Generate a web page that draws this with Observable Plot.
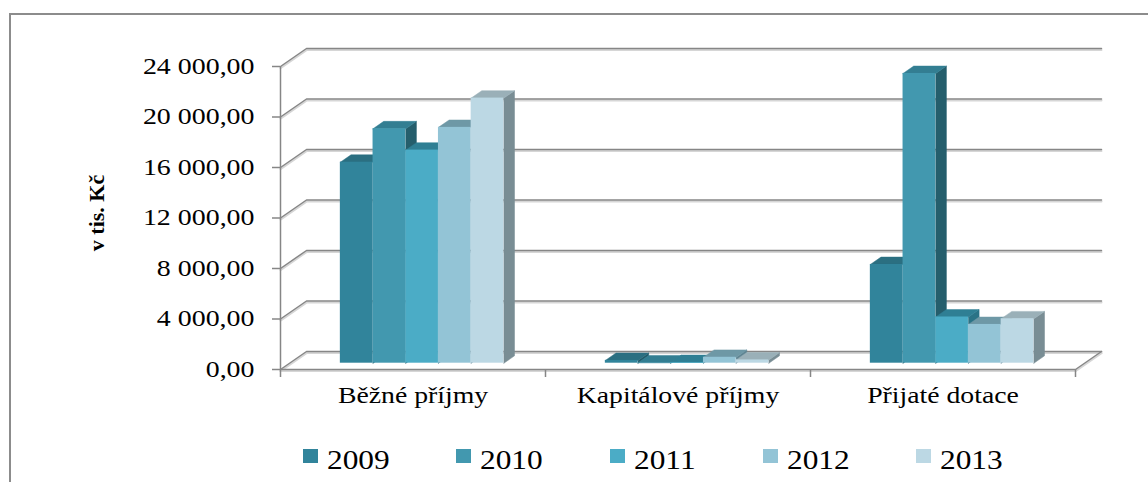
<!DOCTYPE html>
<html>
<head>
<meta charset="utf-8">
<script src="https://cdn.jsdelivr.net/npm/d3@7"></script>
<script src="https://cdn.jsdelivr.net/npm/@observablehq/plot@0.6"></script>
<style>
html,body{margin:0;padding:0;background:#fff;overflow:hidden;width:1148px;height:482px;}
#wrap{position:relative;width:1148px;height:482px;}
#border{position:absolute;left:9px;top:13px;width:1300px;height:700px;border:2px solid #8c8c8c;box-sizing:border-box;}
#chart{position:absolute;left:0;top:0;}
#legend{position:absolute;left:303px;top:446px;display:flex;font-family:"Liberation Serif",serif;font-size:28px;line-height:1;color:#000;}
.item{position:relative;width:153.25px;height:30px;}
.sw{position:absolute;left:0;top:3px;width:15px;height:14px;}
.lab{position:absolute;left:24px;top:0;white-space:nowrap;transform:scaleX(1.12);transform-origin:0 0;}
#chart g[aria-label="y-axis tick label"] text{fill:#000;font-size:22.5px;}
#chart g[aria-label="x-axis tick label"] text{fill:#000;font-size:23.5px;}
</style>
</head>
<body>
<div id="wrap">
  <div id="border"></div>
  <div id="chart"></div>
  <div id="legend"></div>
</div>
<script>
// ---- data ----
const categories = ["Běžné příjmy", "Kapitálové příjmy", "Přijaté dotace"];
const years = ["2009", "2010", "2011", "2012", "2013"];
const values2009 = [15920, 220, 7820];
const values2010 = [18570, 30, 22950];
const values2011 = [16880, 60, 3660];
const values2012 = [18680, 470, 3070];
const values2013 = [21000, 260, 3520];
const yTicks = [0, 4000, 8000, 12000, 16000, 20000, 24000];
const yTitle = "v tis. Kč";

// ---- styles ----
const frontColors = ["#31849B", "#4298AF", "#4BACC6", "#93C4D6", "#BCD8E4"];
const topColors   = ["#2B6F81", "#337E92", "#2F7F94", "#6E98A6", "#9AB0B8"];
const sideColors  = ["#235A69", "#255E6C", "#2A7386", "#5F8593", "#798D94"];

const series = [values2009, values2010, values2011, values2012, values2013];

// projection of the 3D box: depth vector in data units
const DX = 26 / 265, DV = 18 / 12.625 * 1000;
const BW = 0.1234, T0 = 0.35, T1 = 0.76;
const P = (x, v, t) => ({x: x + t * DX, y: v + t * DV});

const fronts = [], tops = [], sides = [];
categories.forEach((c, ci) => {
  series.forEach((vals, i) => {
    const v = vals[ci];
    const xa = ci + 0.5 - 2.5 * BW + i * BW, xb = xa + BW;
    fronts.push({x1: xa + T0 * DX, x2: xb + T0 * DX, y1: T0 * DV, y2: v + T0 * DV, color: frontColors[i]});
    const id = ci + "-" + i;
    [P(xa, v, T0), P(xb, v, T0), P(xb, v, T1), P(xa, v, T1), P(xa, v, T0)]
      .forEach(p => tops.push({...p, id, color: topColors[i]}));
    [P(xb, 0, T0), P(xb, v, T0), P(xb, v, T1), P(xb, 0, T1), P(xb, 0, T0)]
      .forEach(p => sides.push({...p, id, color: sideColors[i]}));
  });
});

const grid = [];
yTicks.forEach(v => {
  [P(0, v, 0), P(0, v, 1), P(3, v, 1)].forEach(p => grid.push({...p, id: "g" + v}));
});
[P(0, 0, 0), P(3, 0, 0), P(3, 0, 1)].forEach(p => grid.push({...p, id: "floor"}));

const loc = d3.formatLocale({decimal: ",", thousands: "\u00a0", grouping: [3], currency: ["", ""]});
const fmt = loc.format(",.2f");

const chart = Plot.plot({
  width: 1148,
  height: 440,
  marginLeft: 280,
  marginRight: 73,
  marginTop: 66,
  marginBottom: 71,
  x: {domain: [0, 3]},
  y: {domain: [0, 24000]},
  color: {type: "identity"},
  style: {fontFamily: "Liberation Serif, serif", fontSize: "22px", color: "#000", background: "transparent", overflow: "visible"},
  marks: [
    Plot.line(grid, {x: "x", y: "y", z: "id", stroke: "#d6d6d6", strokeWidth: 2, dy: 1.6}),
    Plot.line(grid, {x: "x", y: "y", z: "id", stroke: "#868686", strokeWidth: 1.5}),
    Plot.ruleX([0], {y1: 0, y2: 24000, stroke: "#868686", strokeWidth: 1.5}),
    Plot.axisY({ticks: yTicks, tickFormat: fmt, tickSize: 8, tickPadding: 18, stroke: "#868686", strokeWidth: 1.5, fill: "#000", label: null}),
    Plot.axisX({ticks: [0, 1, 2, 3], tickSize: 8, tickFormat: () => "", stroke: "#868686", strokeWidth: 1.5, label: null}),
    Plot.axisX({ticks: [0.5, 1.5, 2.5], tickSize: 0, tickPadding: 17, tickFormat: d => categories[Math.floor(d)], fill: "#000", label: null}),
    Plot.text([yTitle], {frameAnchor: "left", dx: -184, dy: -5, rotate: -90, textAnchor: "middle", fontWeight: "bold", fontSize: 22, fill: "#000"}),
    Plot.line(sides, {x: "x", y: "y", z: "id", fill: "color", stroke: "color", strokeWidth: 0.5}),
    Plot.line(tops, {x: "x", y: "y", z: "id", fill: "color", stroke: "color", strokeWidth: 0.5}),
    Plot.rect(fronts, {x1: "x1", x2: "x2", y1: "y1", y2: "y2", fill: "color"})
  ]
});
document.getElementById("chart").appendChild(chart);

// horizontal stretch of the label glyphs, as in the original image
function stretch(selector, factor) {
  chart.querySelectorAll(selector).forEach(t => {
    const w = t.getComputedTextLength();
    if (w > 0) {
      t.setAttribute("textLength", (w * factor).toFixed(1));
      t.setAttribute("lengthAdjust", "spacingAndGlyphs");
    }
  });
}
stretch('g[aria-label="y-axis tick label"] text', 1.24);
stretch('g[aria-label="x-axis tick label"] text', 1.18);

const legend = document.getElementById("legend");
years.forEach((y, i) => {
  const item = document.createElement("div");
  item.className = "item";
  const sw = document.createElement("div");
  sw.className = "sw";
  sw.style.background = frontColors[i];
  const lab = document.createElement("div");
  lab.className = "lab";
  lab.textContent = y;
  item.appendChild(sw);
  item.appendChild(lab);
  legend.appendChild(item);
});
</script>
</body>
</html>
